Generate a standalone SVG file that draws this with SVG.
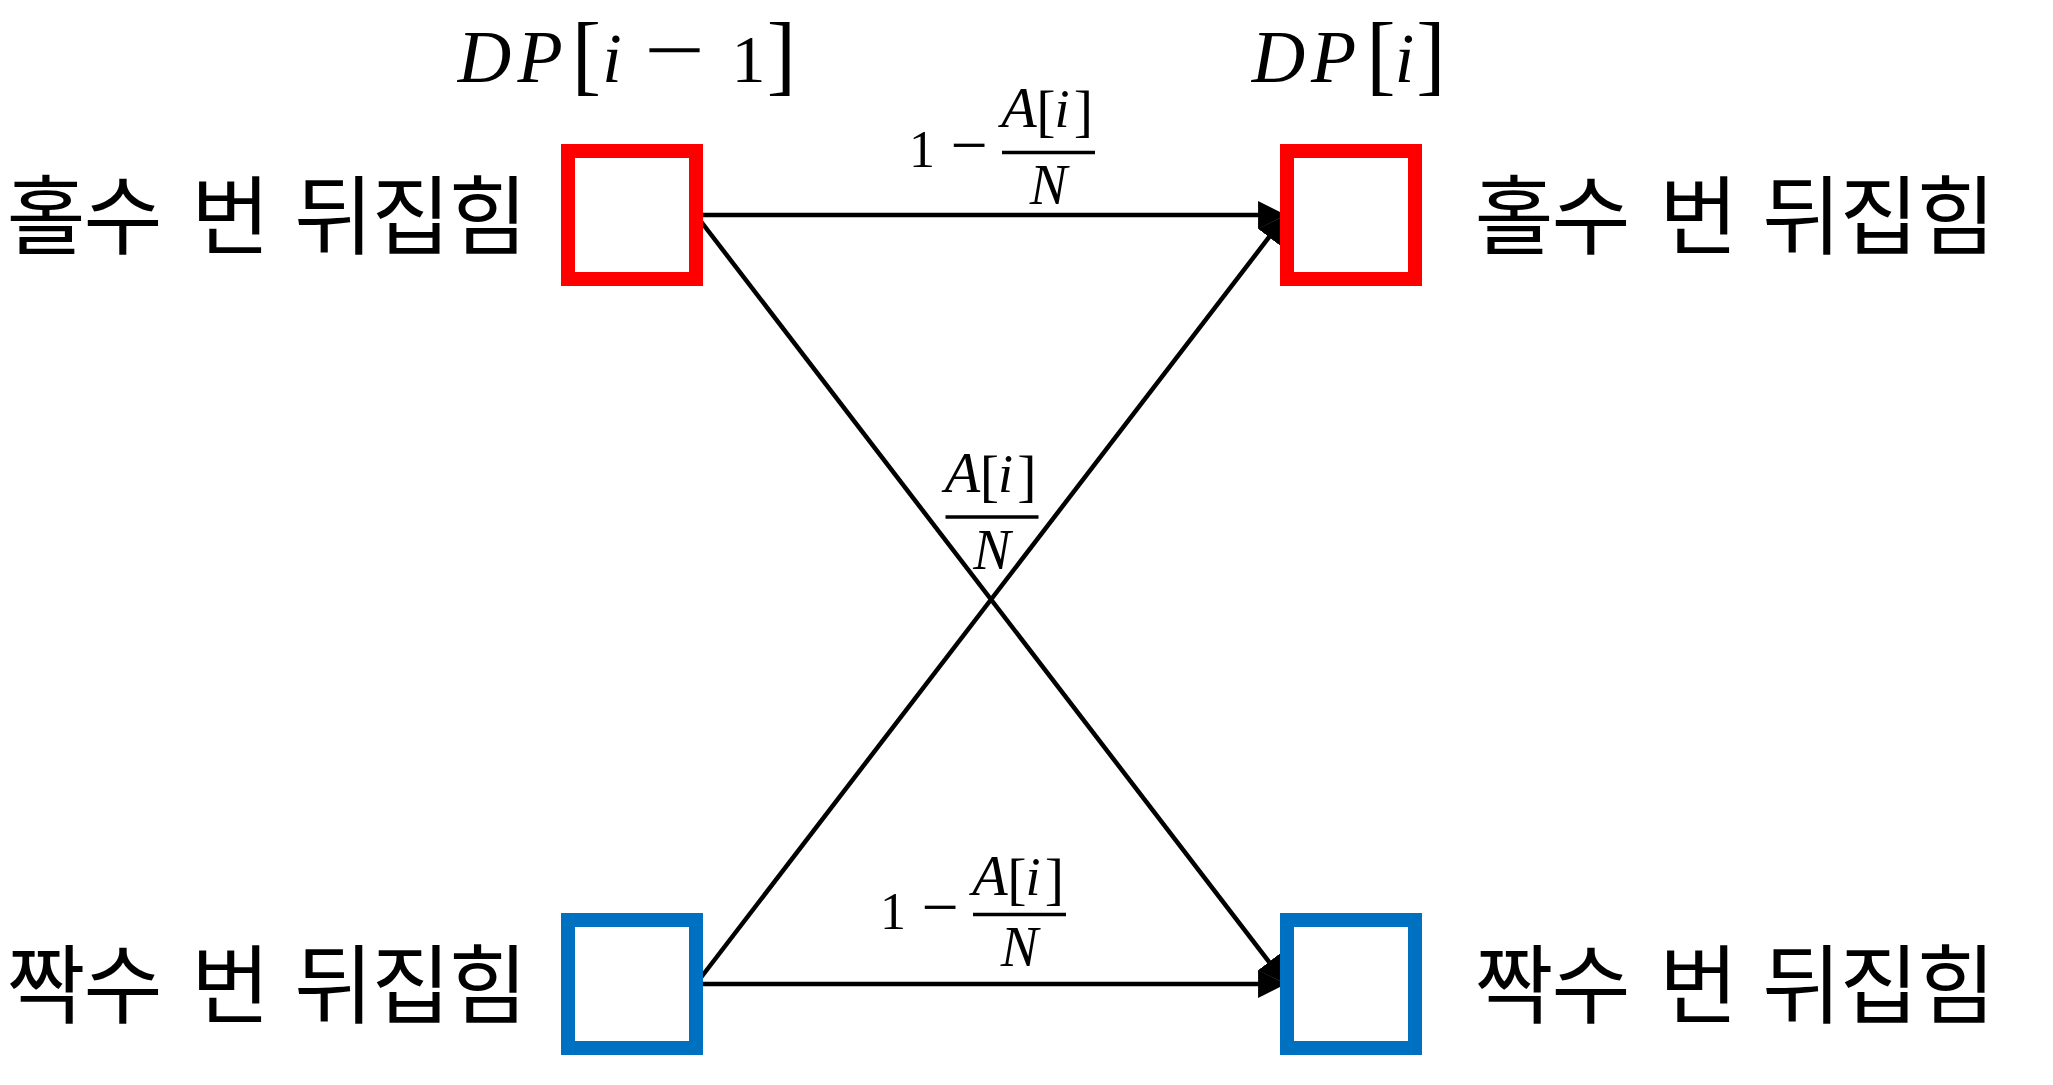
<svg xmlns="http://www.w3.org/2000/svg" width="2053" height="1085" viewBox="0 0 2053 1085">
  <style>
    .kr { font-family: "Noto Sans CJK KR", "Noto Sans", sans-serif; font-size: 86px; letter-spacing: -2px; fill: #000; text-anchor: middle; }
    .m { font-family: "Liberation Serif", "DejaVu Serif", serif; fill: #000; text-anchor: middle; }
    .it { font-style: italic; }
    .box { fill: #fff; stroke-width: 14; }
    .odd { stroke: #FF0000; }
    .even { stroke: #0070C0; }
    .edge { stroke: #000; stroke-width: 4.5; fill: none; }
    .bar { stroke: #000; stroke-width: 3.5; }
  </style>
  <defs>
    <marker id="arrow" viewBox="0 0 7 7" refX="6" refY="3.5" markerWidth="6.2" markerHeight="6.2" orient="auto" markerUnits="strokeWidth">
      <path d="M0,0 L7,3.5 L0,7 z" fill="#000"/>
    </marker>
  </defs>
  <rect width="2053" height="1085" fill="#fff"/>

  <g id="header-prev">
    <text class="m" y="82"><tspan class="it" font-size="74" x="484.5">D</tspan><tspan class="it" font-size="74" x="540">P</tspan><tspan font-size="88" x="586.5" y="84">[</tspan><tspan class="it" font-size="70" x="612" y="82">i</tspan><tspan font-size="68" x="748.5" y="82">1</tspan><tspan font-size="88" x="781.5" y="84">]</tspan></text>
    <text class="m" font-size="80" x="0" y="77" transform="translate(674.5 0) scale(1.35 1)">−</text>
  </g>
  <g id="header-cur">
    <text class="m" y="82"><tspan class="it" font-size="74" x="1278.5">D</tspan><tspan class="it" font-size="74" x="1333.5">P</tspan><tspan font-size="88" x="1381" y="84">[</tspan><tspan class="it" font-size="70" x="1404.5" y="82">i</tspan><tspan font-size="88" x="1431" y="84">]</tspan></text>
  </g>

  <g id="connectors">
    <line class="edge" x1="696" y1="215" x2="1282" y2="215" marker-end="url(#arrow)"/>
    <line class="edge" x1="696" y1="215" x2="1283.6" y2="980.8" marker-end="url(#arrow)"/>
    <line class="edge" x1="696" y1="984" x2="1283.6" y2="218.2" marker-end="url(#arrow)"/>
    <line class="edge" x1="696" y1="984" x2="1282" y2="984" marker-end="url(#arrow)"/>

    <g id="label-top">
      <text class="m" font-size="52" x="922" y="167">1</text>
      <text class="m" font-size="66" x="969" y="167">−</text>
      <line class="bar" x1="1002" y1="152.5" x2="1095" y2="152.5"/>
      <text class="m" y="127"><tspan class="it" font-size="58" x="1019">A</tspan><tspan font-size="58" x="1046" y="130">[</tspan><tspan class="it" font-size="54" x="1062" y="127">i</tspan><tspan font-size="58" x="1083.5" y="130">]</tspan></text>
      <text class="m it" font-size="56" x="1048.5" y="204">N</text>
    </g>
    <g id="label-mid">
      <line class="bar" x1="945.5" y1="517" x2="1038.5" y2="517"/>
      <text class="m" y="491.5"><tspan class="it" font-size="58" x="962.5">A</tspan><tspan font-size="58" x="989.5" y="494.5">[</tspan><tspan class="it" font-size="54" x="1005.5" y="491.5">i</tspan><tspan font-size="58" x="1027" y="494.5">]</tspan></text>
      <text class="m it" font-size="56" x="992" y="568.5">N</text>
    </g>
    <g id="label-bottom">
      <text class="m" font-size="52" x="893" y="929">1</text>
      <text class="m" font-size="66" x="940" y="929">−</text>
      <line class="bar" x1="973" y1="914.5" x2="1066" y2="914.5"/>
      <text class="m" y="895"><tspan class="it" font-size="58" x="990">A</tspan><tspan font-size="58" x="1017" y="898">[</tspan><tspan class="it" font-size="54" x="1033" y="895">i</tspan><tspan font-size="58" x="1054.5" y="898">]</tspan></text>
      <text class="m it" font-size="56" x="1019.5" y="966">N</text>
    </g>
  </g>

  <g id="node-odd-prev">
    <rect class="box odd" x="568" y="151" width="128" height="128"/>
    <text class="kr" y="248"><tspan x="83.5">홀수</tspan><tspan x="229.5">번</tspan><tspan x="410">뒤집힘</tspan></text>
  </g>
  <g id="node-even-prev">
    <rect class="box even" x="568" y="920" width="128" height="128"/>
    <text class="kr" y="1017"><tspan x="83.5">짝수</tspan><tspan x="229.5">번</tspan><tspan x="410">뒤집힘</tspan></text>
  </g>
  <g id="node-odd-cur">
    <rect class="box odd" x="1287" y="151" width="128" height="128"/>
    <text class="kr" y="248"><tspan x="1551.5">홀수</tspan><tspan x="1697.5">번</tspan><tspan x="1878">뒤집힘</tspan></text>
  </g>
  <g id="node-even-cur">
    <rect class="box even" x="1287" y="920" width="128" height="128"/>
    <text class="kr" y="1017"><tspan x="1551.5">짝수</tspan><tspan x="1697.5">번</tspan><tspan x="1878">뒤집힘</tspan></text>
  </g>
</svg>
